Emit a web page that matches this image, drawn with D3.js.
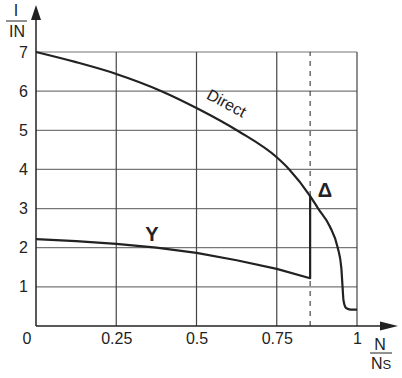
<!DOCTYPE html>
<html>
<head>
<meta charset="utf-8">
<script src="https://cdn.jsdelivr.net/npm/d3@7"></script>
<style>
  body { margin: 0; background: #fff; }
  svg { display: block; font-family: "Liberation Sans", Arial, sans-serif; }
</style>
</head>
<body>
<svg id="chart" width="402" height="378"></svg>
<script>
// speed ratio N/Ns and current ratio I/IN
const directSpeed = [0, 0.125, 0.25, 0.391, 0.5, 0.632, 0.75, 0.789, 0.854, 0.879, 0.915, 0.94, 0.951, 0.955, 0.958, 0.966, 0.98, 1.0];
const directCurrent = [7, 6.74, 6.44, 6.0, 5.57, 4.97, 4.31, 4.0, 3.32, 3.0, 2.55, 2.0, 1.5, 1.0, 0.65, 0.46, 0.42, 0.42];
const starSpeed = [0, 0.125, 0.25, 0.375, 0.5, 0.625, 0.75, 0.854, 0.854];
const starCurrent = [2.22, 2.17, 2.1, 2.0, 1.87, 1.68, 1.46, 1.22, 3.32];
const switchSpeed = 0.854;
const xTicks = [0.25, 0.5, 0.75, 1];
const yTicks = [1, 2, 3, 4, 5, 6, 7];

const svg = d3.select("#chart");
const x = d3.scaleLinear().domain([0, 1]).range([36, 357]);
const y = d3.scaleLinear().domain([0, 7]).range([326, 52]);
const ink = "#222";
const fs = 16;

// grid
svg.append("g").selectAll("line")
    .data(yTicks)
    .enter().append("line")
    .attr("x1", x(0)).attr("x2", x(1))
    .attr("y1", d => y(d)).attr("y2", d => y(d))
    .attr("stroke", "#777").attr("stroke-width", 1.2);

svg.append("g").selectAll("line")
    .data(xTicks)
    .enter().append("line")
    .attr("x1", d => x(d)).attr("x2", d => x(d))
    .attr("y1", y(0)).attr("y2", y(7))
    .attr("stroke", "#444").attr("stroke-width", 1.2);

svg.append("line")
    .attr("x1", x(switchSpeed)).attr("x2", x(switchSpeed))
    .attr("y1", y(0)).attr("y2", y(7))
    .attr("stroke", ink).attr("stroke-width", 1)
    .attr("stroke-dasharray", "5,5");

// axes lines + arrows
svg.append("line")
    .attr("x1", x(0)).attr("x2", x(0))
    .attr("y1", y(0)).attr("y2", 18)
    .attr("stroke", ink).attr("stroke-width", 1.5);
svg.append("path")
    .attr("d", `M${x(0)},5 L${x(0) - 5},20 L${x(0) + 5},20 Z`)
    .attr("fill", ink);
svg.append("line")
    .attr("x1", x(0)).attr("x2", 384)
    .attr("y1", y(0)).attr("y2", y(0))
    .attr("stroke", ink).attr("stroke-width", 1.5);
svg.append("path")
    .attr("d", `M398,${y(0)} L380,${y(0) - 4.5} L380,${y(0) + 4.5} Z`)
    .attr("fill", ink);

// tick labels
const xAxis = svg.append("g")
    .attr("transform", `translate(0,${y(0)})`)
    .call(d3.axisBottom(x).tickValues(xTicks).tickSize(0).tickPadding(7).tickFormat(d => String(d)));
const yAxis = svg.append("g")
    .attr("transform", `translate(${x(0)},0)`)
    .call(d3.axisLeft(y).tickValues(yTicks).tickSize(0).tickPadding(8).tickFormat(d => String(d)));
[xAxis, yAxis].forEach(g => {
    g.select(".domain").remove();
    g.selectAll("text")
        .attr("font-size", fs)
        .attr("font-family", "'Liberation Sans', Arial, sans-serif")
        .attr("fill", ink);
});
svg.append("text")
    .attr("x", 27).attr("y", 344)
    .attr("text-anchor", "middle")
    .attr("font-size", fs).attr("fill", ink)
    .text("0");

// axis titles as fractions
const yTitle = svg.append("g").attr("fill", ink).attr("font-size", fs);
yTitle.append("text").attr("x", 16).attr("y", 16).attr("text-anchor", "middle").text("I");
yTitle.append("line").attr("x1", 6).attr("x2", 27).attr("y1", 21).attr("y2", 21)
    .attr("stroke", ink).attr("stroke-width", 1);
yTitle.append("text").attr("x", 17).attr("y", 37).attr("text-anchor", "middle").text("IN");

const xTitle = svg.append("g").attr("fill", ink).attr("font-size", fs);
xTitle.append("text").attr("x", 380).attr("y", 350).attr("text-anchor", "middle").text("N");
xTitle.append("line").attr("x1", 370).attr("x2", 392).attr("y1", 353).attr("y2", 353)
    .attr("stroke", ink).attr("stroke-width", 1);
const ns = xTitle.append("text").attr("x", 371).attr("y", 369);
ns.append("tspan").text("N");
ns.append("tspan").attr("font-size", 13).text("S");

// curves
const direct = directSpeed.map((s, i) => [s, directCurrent[i]]);
const star = starSpeed.map((s, i) => [s, starCurrent[i]]);

svg.append("path")
    .datum(direct)
    .attr("d", d3.line().x(d => x(d[0])).y(d => y(d[1])).curve(d3.curveMonotoneX))
    .attr("fill", "none").attr("stroke", ink).attr("stroke-width", 2.2);

svg.append("path")
    .datum(star)
    .attr("d", d3.line().x(d => x(d[0])).y(d => y(d[1])))
    .attr("fill", "none").attr("stroke", ink).attr("stroke-width", 2.2)
    .attr("stroke-linejoin", "round");

// curve labels
svg.append("text")
    .attr("transform", "translate(224,108) rotate(28)")
    .attr("text-anchor", "middle")
    .attr("font-size", 16).attr("fill", ink)
    .text("Direct");
svg.append("text")
    .attr("x", 152).attr("y", 241)
    .attr("text-anchor", "middle")
    .attr("font-size", 20).attr("font-weight", "bold").attr("fill", ink)
    .text("Y");
svg.append("text")
    .attr("x", 325).attr("y", 197)
    .attr("text-anchor", "middle")
    .attr("font-size", 20).attr("font-weight", "bold").attr("fill", ink)
    .text("Δ");
</script>
</body>
</html>
